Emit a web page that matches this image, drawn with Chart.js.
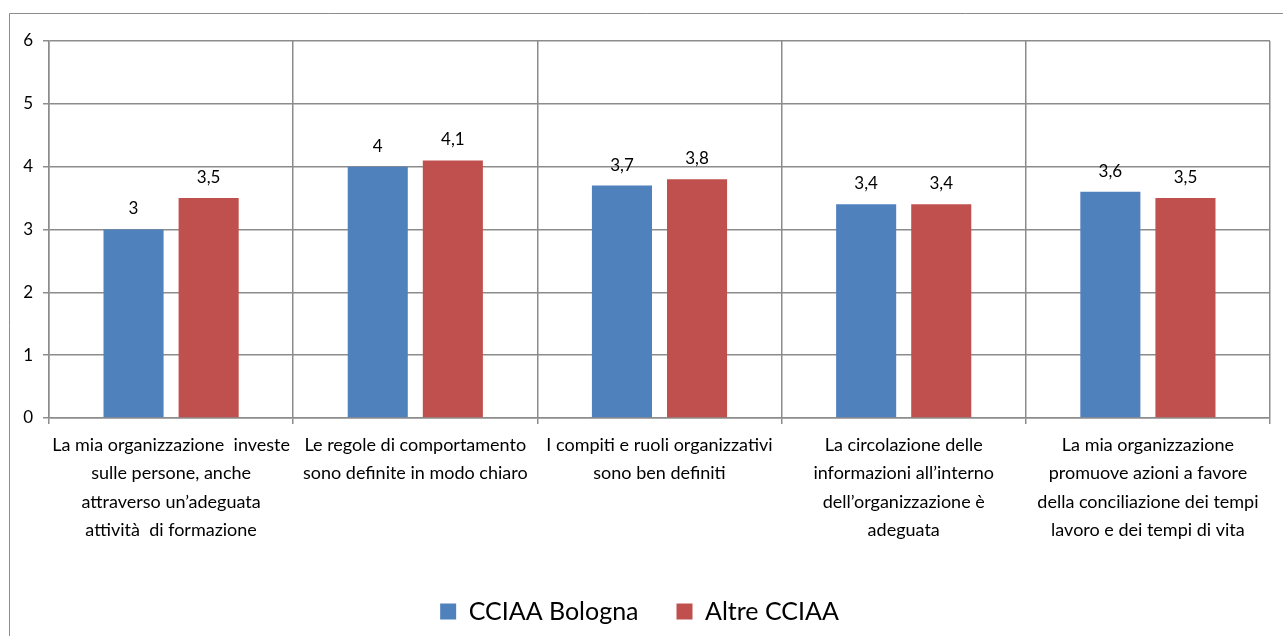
<!DOCTYPE html>
<html><head><meta charset="utf-8">
<script src="https://cdn.jsdelivr.net/npm/chart.js@4"></script>
<style>html,body{margin:0;padding:0;background:#fff}#wrap{width:1283px;height:636px;position:relative}</style>
</head><body><div id="wrap"><canvas id="c" width="1283" height="636"></canvas></div>
<script>
const categories = [
  ["La mia organizzazione  investe", "sulle persone, anche", "attraverso un’adeguata", "attività  di formazione"],
  ["Le regole di comportamento", "sono definite in modo chiaro"],
  ["I compiti e ruoli organizzativi", "sono ben definiti"],
  ["La circolazione delle", "informazioni all’interno", "dell’organizzazione è", "adeguata"],
  ["La mia organizzazione", "promuove azioni a favore", "della conciliazione dei tempi", "lavoro e dei tempi di vita"]
];
const seriesNames = ["CCIAA Bologna", "Altre CCIAA"];
const bologna = [3, 4, 3.7, 3.4, 3.6];
const altre = [3.5, 4.1, 3.8, 3.4, 3.5];
const yTicks = [0, 1, 2, 3, 4, 5, 6];

const FONT = "Lato, 'Open Sans', sans-serif";

const valueLabels = {
  id: 'valueLabels',
  afterDatasetsDraw(chart) {
    const ctx = chart.ctx;
    ctx.save();
    ctx.font = "17px " + FONT;
    ctx.fillStyle = "#000";
    ctx.textAlign = "center";
    ctx.textBaseline = "bottom";
    chart.data.datasets.forEach((ds, i) => {
      chart.getDatasetMeta(i).data.forEach((bar, j) => {
        ctx.fillText(String(ds.data[j]).replace('.', ','), bar.x, bar.y - 12);
      });
    });
    ctx.restore();
  }
};
const frame = {
  id: 'frame',
  beforeDraw(chart) {
    const ctx = chart.ctx;
    ctx.save();
    ctx.strokeStyle = "#8c8c8c";
    ctx.lineWidth = 1;
    ctx.beginPath();
    ctx.moveTo(9.5, 640);
    ctx.lineTo(9.5, 13.5);
    ctx.lineTo(1290, 13.5);
    ctx.stroke();
    ctx.restore();
  }
};

new Chart(document.getElementById('c'), {
  type: 'bar',
  data: {
    labels: categories,
    datasets: [
      { label: seriesNames[0], data: bologna, backgroundColor: '#4f81bd' },
      { label: seriesNames[1], data: altre, backgroundColor: '#c0504d' }
    ]
  },
  options: {
    responsive: false,
    animation: false,
    events: [],
    layout: { padding: { left: 9, top: 41, right: 13, bottom: 2 } },
    datasets: { bar: { categoryPercentage: 0.615, barPercentage: 0.8 } },
    scales: {
      x: {
        grid: { color: '#8c8c8c', lineWidth: 1.5, tickLength: 6, offset: true },
        border: { color: '#8c8c8c', width: 1.5 },
        ticks: { color: '#000', font: { family: FONT, size: 18, lineHeight: 1.58 }, maxRotation: 0, autoSkip: false, padding: 7 },
        afterFit(s) { s.height = 143; }
      },
      y: {
        min: 0, max: 6,
        afterBuildTicks(s) { s.ticks = yTicks.map(v => ({ value: v })); },
        grid: { color: '#8c8c8c', lineWidth: 1.5, tickLength: 6 },
        border: { color: '#8c8c8c', width: 1.5 },
        ticks: { color: '#000', font: { family: FONT, size: 17 }, padding: 10 },
        afterFit(s) { s.width = 40; }
      }
    },
    plugins: {
      legend: {
        position: 'bottom',
        labels: { color: '#000', font: { family: FONT, size: 25 }, boxWidth: 16, boxHeight: 16, padding: 38 }
      },
      tooltip: { enabled: false }
    }
  },
  plugins: [valueLabels, frame]
});
</script></body></html>
